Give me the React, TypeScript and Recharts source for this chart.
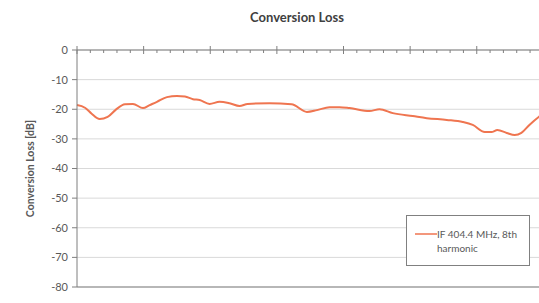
import React from "react";
import { LineChart, Line, XAxis, YAxis, CartesianGrid, Legend, ReferenceLine } from "recharts";

// x is position along the sweep, in major-gridline units (labels are cut off in the source)
const sweepPos = [
  0, 0.12, 0.22, 0.34, 0.46, 0.58, 0.72, 0.84, 0.99, 1.09, 1.2, 1.35, 1.5, 1.62, 1.74, 1.84,
  1.99, 2.14, 2.29, 2.44, 2.56, 2.89, 3.22, 3.45, 3.6, 3.79, 3.94, 4.09, 4.39, 4.54, 4.74,
  5.04, 5.25, 5.55, 5.79, 5.94, 6.12, 6.22, 6.31, 6.45, 6.57, 6.67, 6.79, 6.93, 7.2,
];
const lossDb = [
  -18.6, -19.5, -21.5, -23.3, -22.6, -20.2, -18.3, -18.2, -19.6, -18.6, -17.5, -15.9, -15.5,
  -15.7, -16.6, -16.9, -18.2, -17.5, -18.0, -18.9, -18.2, -18.0, -18.3, -20.9, -20.3, -19.3,
  -19.3, -19.6, -20.6, -20.0, -21.3, -22.3, -23.0, -23.6, -24.3, -25.3, -27.7, -27.7, -27.0,
  -28.0, -28.7, -28.0, -25.3, -22.6, -19.5,
];
const yTicks = [0, -10, -20, -30, -40, -50, -60, -70, -80];
const xTicks = Array.from({ length: 41 }, (_, i) => Math.round(i * 0.2 * 10) / 10);
const seriesName = "IF 404.4 MHz, 8th harmonic";

const data = sweepPos.map((x, i) => ({ x, loss: lossDb[i] }));

const FONT = "Lato, 'Open Sans', sans-serif";
const LINE_COLOR = "#EF7550";

const AxisTick = (props: any) => {
  const { x, y, payload } = props;
  const major = Math.abs(payload.value - Math.round(payload.value)) < 1e-6;
  return major ? (
    <line x1={x} x2={x} y1={y - 4} y2={y + 4} stroke="#7f7f7f" />
  ) : (
    <line x1={x} x2={x} y1={y} y2={y + 3} stroke="#7f7f7f" />
  );
};

const YLabel = (props: any) => {
  const cx = 31;
  const cy = props.viewBox.y + props.viewBox.height / 2;
  return (
    <text
      x={cx}
      y={cy}
      transform={`rotate(-90 ${cx} ${cy})`}
      textAnchor="middle"
      dominantBaseline="middle"
      fontSize={10.5}
      fontWeight="bold"
      fill="#595959"
    >
      Conversion Loss [dB]
    </text>
  );
};

const LegendBox = () => (
  <div
    style={{
      boxSizing: "border-box",
      width: 124,
      height: 51,
      border: "1px solid #808080",
      background: "#fff",
      position: "relative",
      fontFamily: FONT,
      fontSize: 10,
      color: "#595959",
      lineHeight: "14px",
    }}
  >
    <svg width={22} height={4} style={{ position: "absolute", left: 8, top: 16 }}>
      <line x1={0} x2={22} y1={2} y2={2} stroke={LINE_COLOR} strokeWidth={1.5} />
    </svg>
    <div style={{ position: "absolute", left: 30, top: 11, width: 92 }}>{seriesName}</div>
  </div>
);

export default function App() {
  return (
    <div
      style={{
        position: "fixed",
        left: 0,
        top: 0,
        width: 539,
        height: 303,
        overflow: "hidden",
        background: "#fff",
      }}
    >
      <div
        style={{
          position: "absolute",
          left: 197,
          width: 200,
          top: 9,
          textAlign: "center",
          fontFamily: FONT,
          fontWeight: "bold",
          fontSize: 13,
          color: "#404040",
        }}
      >
        Conversion Loss
      </div>
      <LineChart
        width={620}
        height={303}
        data={data}
        margin={{ top: 45, right: 10, bottom: 16, left: 0 }}
        style={{ fontFamily: FONT }}
      >
        <CartesianGrid horizontal vertical={false} stroke="#d9d9d9" />
        <XAxis
          dataKey="x"
          type="number"
          domain={[0, 8]}
          ticks={xTicks}
          interval={0}
          orientation="top"
          height={5}
          tickSize={0}
          tickMargin={0}
          tickLine={false}
          axisLine={{ stroke: "#7f7f7f" }}
          tick={<AxisTick />}
        />
        <YAxis
          domain={[-80, 0]}
          ticks={yTicks}
          interval={0}
          width={77}
          axisLine={{ stroke: "#7f7f7f" }}
          tickLine={{ stroke: "#7f7f7f" }}
          tickSize={5}
          tickMargin={4}
          tick={{ fill: "#595959", fontSize: 11 }}
          label={<YLabel />}
        />
        <ReferenceLine y={-80} stroke="#a6a6a6" strokeWidth={1.5} />
        <Legend
          layout="vertical"
          align="center"
          verticalAlign="middle"
          content={<LegendBox />}
          wrapperStyle={{ left: 406, top: 215, width: 124, height: 51 }}
        />
        <Line
          name={seriesName}
          dataKey="loss"
          type="monotone"
          stroke={LINE_COLOR}
          strokeWidth={2}
          dot={false}
          isAnimationActive={false}
        />
      </LineChart>
    </div>
  );
}
